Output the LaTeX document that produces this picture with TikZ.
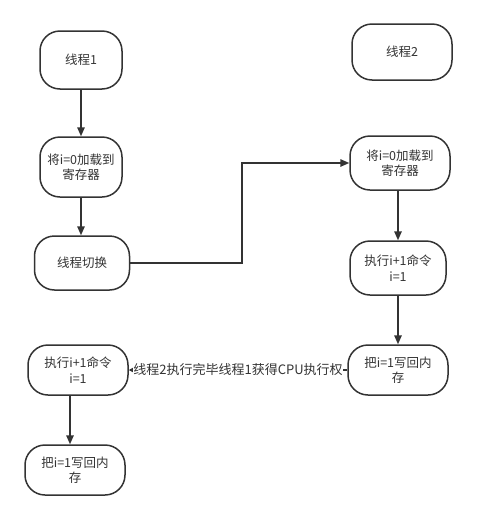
\documentclass[tikz,border=0pt]{standalone}
\usepackage{fontspec}
\setmainfont{Noto Sans CJK SC}
\usetikzlibrary{arrows.meta}
\definecolor{ln}{HTML}{333333}
\tikzset{
  box/.style={draw=ln, line width=1.5pt, rounded corners=20pt, align=center,
    text=ln, font=\fontsize{12.5}{15.5}\selectfont, inner sep=2pt},
  conn/.style={draw=ln, line width=1.5pt, -{Triangle[length=9pt,width=7.5pt]}},
  lab/.style={fill=white, text=ln, font=\fontsize{13}{15}\selectfont, inner sep=0.5pt}
}
\begin{document}
\begin{tikzpicture}[x=1pt,y=-1pt]
\useasboundingbox[fill=white] (0,0) rectangle (477,520);
\node[box, minimum width=82pt, minimum height=58pt] (n1) at (81,60) {线程1};
\node[box, minimum width=82pt, minimum height=60pt] (n2) at (81,167) {将i=0加载到\\寄存器};
\node[box, minimum width=95pt, minimum height=54pt] (n3) at (82,263) {线程切换};
\node[box, minimum width=100pt, minimum height=56pt] (m1) at (402,52) {线程2};
\node[box, minimum width=100pt, minimum height=54pt] (m2) at (400,163) {将i=0加载到\\寄存器};
\node[box, minimum width=96pt, minimum height=54pt] (m3) at (398,268) {执行i+1命令\\i=1};
\node[box, minimum width=100pt, minimum height=50pt] (m4) at (398,370) {把i=1写回内\\存};
\node[box, minimum width=100pt, minimum height=50pt] (l4) at (78,370) {执行i+1命令\\i=1};
\node[box, minimum width=100pt, minimum height=50pt] (l5) at (75,470) {把i=1写回内\\存};
\coordinate (cx) at (70,0);
\coordinate (rx) at (398,0);
\coordinate (bend) at (242,0);
\draw[conn] (n1) -- (n2);
\draw[conn] (n2) -- (n3.north -| n2);
\draw[conn] (n3.east) -| (bend |- m2.west) -- (m2.west);
\draw[conn] (m2.south -| rx) -- (m3.north -| rx);
\draw[conn] (m3.south -| rx) -- (m4.north -| rx);
\draw[draw=ln, line width=1.5pt, -{Triangle[length=4pt,width=4pt]}] (m4.west) -- node[lab] (t) {线程2执行完毕线程1获得CPU执行权} (l4.east);
\draw[conn] (l4.south -| cx) -- (l5.north -| cx);
\end{tikzpicture}
\end{document}
